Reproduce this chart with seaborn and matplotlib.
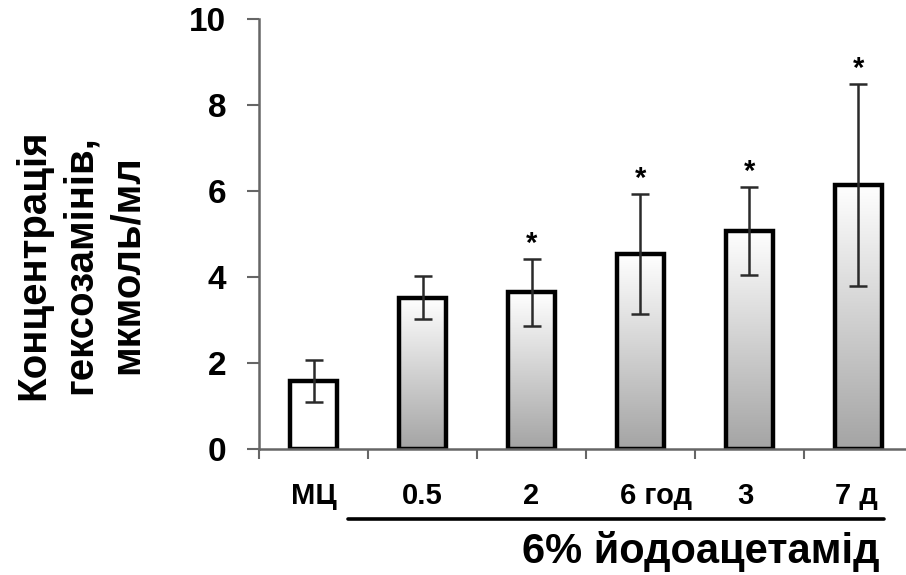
import numpy as np
import pandas as pd
import matplotlib
matplotlib.use("Agg")
import matplotlib.pyplot as plt
import matplotlib.transforms as mtrans
import seaborn as sns
from matplotlib.colors import LinearSegmentedColormap

categories = ["МЦ", "0.5", "2", "6 год", "3", "7 д"]
means = [1.58, 3.52, 3.65, 4.53, 5.07, 6.14]
errors = [0.48, 0.50, 0.78, 1.40, 1.02, 2.35]
significant = [False, False, True, True, True, True]
ytick_vals = [0, 2, 4, 6, 8, 10]
ylabel = "Концентрація\nгексозамінів,\nмкмоль/мл"
group_label = "6% йодоацетамід"

sns.set_theme(style="white")
plt.rcParams['font.family'] = ['Liberation Sans', 'DejaVu Sans']
plt.rcParams['text.color'] = 'black'
plt.rcParams['xtick.labelcolor'] = 'black'
plt.rcParams['ytick.labelcolor'] = 'black'

df = pd.DataFrame({"cat": categories, "val": means})

fig = plt.figure(figsize=(9.06, 5.75), dpi=100)
W, H = 906, 575
ax = fig.add_axes([259 / W, (575 - 449) / H, (913 - 259) / W, 430 / H])

sns.barplot(data=df, x="cat", y="val", ax=ax, color="white", edgecolor="black",
            linewidth=3.2, width=0.43, saturation=1, errorbar=None)

cmap = LinearSegmentedColormap.from_list("g", ["#ffffff", "#a4a4a4"])
grad = np.linspace(0, 1, 256).reshape(-1, 1)
for i, p in enumerate(ax.patches):
    if i == 0:
        continue
    x0, y0 = p.get_x(), p.get_y()
    w, h = p.get_width(), p.get_height()
    im = ax.imshow(grad, cmap=cmap, aspect="auto", origin="upper",
                   extent=[x0, x0 + w, y0, y0 + h], zorder=p.get_zorder() - 0.1)
    im.set_clip_path(p)
    p.set_facecolor("none")

xs = np.arange(len(categories))
ax.errorbar(xs, means, yerr=errors, fmt="none", ecolor="#2a2a2a", elinewidth=1.8,
            capsize=6.5, capthick=1.8, zorder=5)

for x, m, e, s in zip(xs, means, errors, significant):
    if s:
        ax.text(x, m + e + 0.02, "*", ha="center", va="bottom", fontsize=21,
                fontweight="bold", color="black")

ax.set_ylim(0, 10)
ax.set_xlim(-0.5, 5.5)
ax.set_yticks(ytick_vals)
ax.set_yticklabels([str(v) for v in ytick_vals], fontsize=24, fontweight="bold")
ax.set_xticks(xs)
ax.set_xticklabels(categories, fontsize=21, fontweight="bold")
ax.set_xlabel("")
ax.set_ylabel("")
ax.tick_params(axis="x", length=0, pad=24)
ax.tick_params(axis="y", length=8.5, width=1.5, color="#666666", direction="out", pad=15, left=True)
ax.set_xticks(np.arange(-0.5, 5.6, 1.0), minor=True)
ax.tick_params(axis="x", which="minor", length=7, width=1.5, color="#666666", direction="out", bottom=True)

# small horizontal nudges of tick labels, as in the reference
nudges_px = [0, 0, 0, 16, -4, -2]
for lbl, dx in zip(ax.get_xticklabels(), nudges_px):
    lbl.set_transform(lbl.get_transform() + mtrans.ScaledTranslation(dx / 100, 0, fig.dpi_scale_trans))

for side in ["top", "right"]:
    ax.spines[side].set_visible(False)
for side in ["left", "bottom"]:
    ax.spines[side].set_color("#666666")
    ax.spines[side].set_linewidth(1.8)

fig.text(80 / W, 1 - 265 / H, ylabel, rotation=90, ha="center", va="center",
         fontsize=29, fontweight="bold", linespacing=1.3)

fig.add_artist(plt.Line2D([348 / W, 884 / W], [1 - 519 / H, 1 - 519 / H],
                          color="black", linewidth=2.6, transform=fig.transFigure))
fig.text(879 / W, 1 - 552 / H, group_label, ha="right", va="center",
         fontsize=30, fontweight="bold")

fig.savefig("out.png", dpi=100)
